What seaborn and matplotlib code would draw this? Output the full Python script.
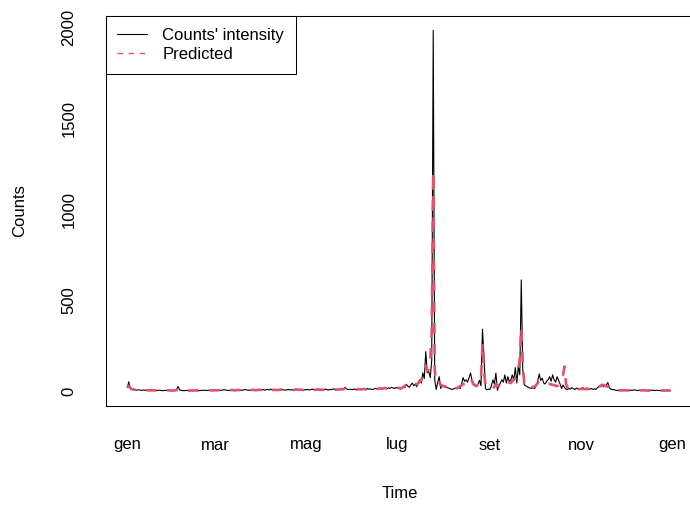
import matplotlib
matplotlib.use("Agg")
import matplotlib.pyplot as plt
from matplotlib.lines import Line2D
import numpy as np
import pandas as pd
import seaborn as sns

# ---------------- data (daily values, one list per month) ----------------
counts_jan = [20, 52, 14, 10, 8, 9, 6, 7, 8, 5, 6, 7, 5, 8, 6, 5, 4, 6, 7, 5, 4, 6, 5, 4, 3, 5, 4, 6, 5, 4, 5]
counts_feb = [4, 6, 9, 26, 8, 5, 4, 3, 4, 5, 3, 4, 5, 4, 6, 5, 4, 3, 5, 4, 6, 5, 4, 5, 6, 5, 4, 6]
counts_mar = [5, 6, 8, 6, 5, 7, 9, 6, 5, 4, 6, 8, 7, 5, 6, 9, 7, 6, 5, 8, 10, 7, 6, 5, 7, 9, 8, 6, 7, 10, 8]
counts_apr = [7, 9, 6, 8, 10, 7, 12, 8, 6, 9, 7, 5, 8, 11, 9, 7, 6, 8, 10, 7, 9, 6, 8, 12, 10, 7, 9, 8, 6, 9]
counts_may = [8, 10, 7, 9, 12, 8, 6, 9, 11, 8, 7, 10, 9, 12, 8, 7, 10, 9, 13, 10, 8, 11, 9, 12, 10, 14, 21, 12, 9, 11, 10]
counts_jun = [9, 12, 10, 8, 14, 11, 9, 13, 12, 10, 15, 11, 13, 9, 12, 16, 14, 11, 18, 15, 13, 20, 17, 14, 19, 16, 22, 18, 15, 21]
counts_jul = [17, 20, 12, 18, 25, 20, 38, 28, 22, 35, 45, 30, 40, 25, 50, 63, 45, 101, 70, 218, 101, 109, 75, 170, 1983, 63, 10, 50, 80, 15, 35]
counts_aug = [25, 30, 22, 18, 15, 12, 10, 14, 18, 15, 25, 15, 40, 75, 55, 63, 50, 75, 100, 60, 45, 30, 25, 40, 60, 30, 341, 190, 15, 8, 12]
counts_sep = [10, 30, 63, 40, 100, 5, 30, 45, 63, 50, 90, 45, 80, 55, 63, 90, 60, 130, 45, 136, 90, 612, 120, 35, 30, 25, 20, 18, 15, 20]
counts_oct = [15, 30, 55, 95, 60, 72, 45, 40, 55, 63, 80, 55, 90, 63, 50, 80, 60, 40, 15, 35, 20, 12, 10, 15, 12, 20, 14, 10, 18, 12, 15]
counts_nov = [12, 20, 15, 10, 18, 12, 12, 15, 10, 14, 10, 20, 25, 30, 39, 25, 28, 35, 48, 20, 12, 8, 10, 6, 4, 6, 5, 7, 6, 5]
counts_dec = [5, 6, 4, 7, 5, 6, 8, 5, 4, 6, 7, 5, 9, 6, 5, 4, 6, 5, 7, 4, 5, 6, 4, 5, 3, 5, 4, 6, 5, 4, 5]

pred_jan = [21, 30, 18, 12, 10, 9, 8, 7, 7, 6, 6, 6, 5, 6, 5, 5, 5, 5, 5, 5, 5, 5, 5, 4, 4, 4, 4, 5, 5, 4, 4]
pred_feb = [4, 5, 6, 10, 8, 6, 5, 4, 4, 4, 4, 4, 4, 4, 5, 5, 4, 4, 4, 4, 5, 5, 4, 4, 5, 5, 5, 5]
pred_mar = [5, 5, 6, 6, 5, 6, 7, 6, 5, 5, 6, 7, 6, 5, 6, 7, 7, 6, 6, 7, 8, 7, 6, 6, 7, 8, 7, 6, 7, 8, 8]
pred_apr = [7, 8, 7, 8, 9, 8, 9, 8, 7, 8, 7, 7, 8, 9, 9, 8, 7, 8, 9, 8, 8, 7, 8, 10, 9, 8, 9, 8, 7, 8]
pred_may = [8, 9, 8, 9, 10, 9, 8, 9, 10, 9, 8, 9, 9, 10, 9, 8, 9, 9, 11, 10, 9, 10, 10, 11, 10, 12, 14, 12, 10, 10, 10]
pred_jun = [10, 11, 10, 10, 12, 11, 10, 12, 12, 11, 13, 12, 12, 11, 12, 14, 14, 13, 15, 15, 14, 17, 17, 16, 18, 17, 20, 19, 18, 20]
pred_jul = [20, 18, 15, 18, 25, 28, 40, 35, 30, 35, 42, 38, 40, 38, 45, 55, 60, 85, 100, 140, 110, 120, 160, 330, 1206, 120, 45, 40, 50, 35, 30]
pred_aug = [28, 25, 15, 10, 8, 7, 7, 10, 14, 18, 22, 28, 32, 40, 42, 45, 55, 70, 74, 55, 38, 32, 30, 33, 35, 60, 265, 110, 35, 20, 18]
pred_sep = [22, 18, 15, 25, 40, 30, 28, 38, 42, 50, 55, 45, 50, 48, 45, 55, 63, 70, 80, 120, 180, 348, 160, 40, 20, 15, 18, 20, 22, 25]
pred_oct = [25, 35, 45, 55, 58, 55, 50, 45, 42, 40, 40, 38, 35, 35, 30, 30, 32, 45, 60, 90, 136, 40, 20, 12, 10, 10, 12, 12, 12, 13, 12]
pred_nov = [12, 13, 13, 12, 12, 13, 13, 14, 15, 18, 20, 22, 25, 28, 32, 35, 30, 28, 25, 20, 15, 10, 8, 7, 6, 5, 5, 5, 5, 5]
pred_dec = [5, 5, 5, 4, 5, 5, 5, 5, 4, 4, 5, 5, 5, 5, 4, 4, 4, 5, 5, 4, 4, 4, 4, 4, 4, 4, 4, 4, 4, 4, 4]

month_labels = ["gen", "mar", "mag", "lug", "set", "nov", "gen"]
y_ticks = [0, 500, 1000, 1500, 2000]
series_labels = ["Counts' intensity", "Predicted"]

counts_months = [counts_jan, counts_feb, counts_mar, counts_apr, counts_may, counts_jun,
                 counts_jul, counts_aug, counts_sep, counts_oct, counts_nov, counts_dec]
pred_months = [pred_jan, pred_feb, pred_mar, pred_apr, pred_may, pred_jun,
               pred_jul, pred_aug, pred_sep, pred_oct, pred_nov, pred_dec]

counts = np.concatenate(counts_months)
pred = np.concatenate(pred_months)
day = np.arange(len(counts))
df = pd.DataFrame({"day": day, "counts": counts, "pred": pred})

month_len = [len(m) for m in counts_months]
month_start = np.concatenate([[0], np.cumsum(month_len)])
tick_pos = month_start[[0, 2, 4, 6, 8, 10, 12]]

# ---------------- style ----------------
sns.set_style("white")
plt.rcParams["font.family"] = ["Liberation Sans", "DejaVu Sans"]
plt.rcParams["font.size"] = 12
for k in ["text.color", "axes.labelcolor", "xtick.color", "ytick.color", "axes.edgecolor"]:
    plt.rcParams[k] = "black"

W, H = 690, 507
PT = 72 / 100  # points per pixel
fig = plt.figure(figsize=(W / 100, H / 100), dpi=100)
left_px, right_px, top_px, bot_px = 105.6, 693.7, 16.0, 405.7
ax = fig.add_axes([left_px / W, 1 - bot_px / H, (right_px - left_px) / W, (bot_px - top_px) / H])

red = "#DF536B"
sns.lineplot(data=df, x="day", y="counts", ax=ax, color="black", linewidth=0.8,
             estimator=None, legend=False)
sns.lineplot(data=df, x="day", y="pred", ax=ax, color=red, linewidth=1.9,
             estimator=None, legend=False, linestyle=(0, (4, 4)))

# axis ranges like R (4% padding)
px_per_day = (672.0 - 127.3) / 365
ax.set_xlim((left_px - 127.3) / px_per_day, (right_px - 127.3) / px_per_day)
ymax = counts.max()
ax.set_ylim(-0.04 * ymax, ymax * 1.04)

ax.set_xticks(tick_pos)
ax.set_xticklabels(month_labels)
ax.set_yticks(y_ticks)
ax.set_yticklabels([str(v) for v in y_ticks])

tick_len_px = 12.5
ax.tick_params(axis="both", direction="out", length=tick_len_px * PT, width=0.75,
               color="black", labelsize=12, labelcolor="black")
# label centres: x labels at y=445 px, y labels at x=69 px
ax.tick_params(axis="x", pad=(445 - (bot_px + tick_len_px)) * PT)
ax.tick_params(axis="y", pad=((left_px - tick_len_px) - 69) * PT)
for lab in ax.get_xticklabels():
    lab.set_va("center")
for lab in ax.get_yticklabels():
    lab.set_rotation(90)
    lab.set_va("center")
    lab.set_ha("center")

for s in ["left", "bottom", "top"]:
    ax.spines[s].set_visible(True)
    ax.spines[s].set_color("black")
    ax.spines[s].set_linewidth(0.75)
ax.spines["right"].set_visible(False)

ax.set_xlabel("Time", fontsize=12, color="black")
ax.set_ylabel("Counts", fontsize=12, color="black")
ax.xaxis.set_label_coords(0.5, -(493 - bot_px) / (bot_px - top_px))
ax.xaxis.label.set_va("center")
ax.yaxis.set_label_coords((20 - left_px) / (right_px - left_px), 0.5)
ax.yaxis.label.set_va("center")

handles = [Line2D([0], [0], color="black", linewidth=0.8),
           Line2D([0], [0], color=red, linewidth=1.0, linestyle=(0, (4, 4)))]
leg = ax.legend(handles=handles, labels=series_labels, loc="upper left",
                bbox_to_anchor=(0, 1), borderaxespad=0, frameon=True, fancybox=False,
                edgecolor="black", framealpha=1, fontsize=12, handlelength=1.8,
                handletextpad=0.9, borderpad=0.7, labelspacing=0.25)
leg.get_frame().set_linewidth(0.75)
for t in leg.get_texts():
    t.set_color("black")

fig.savefig("out.png", dpi=100)
